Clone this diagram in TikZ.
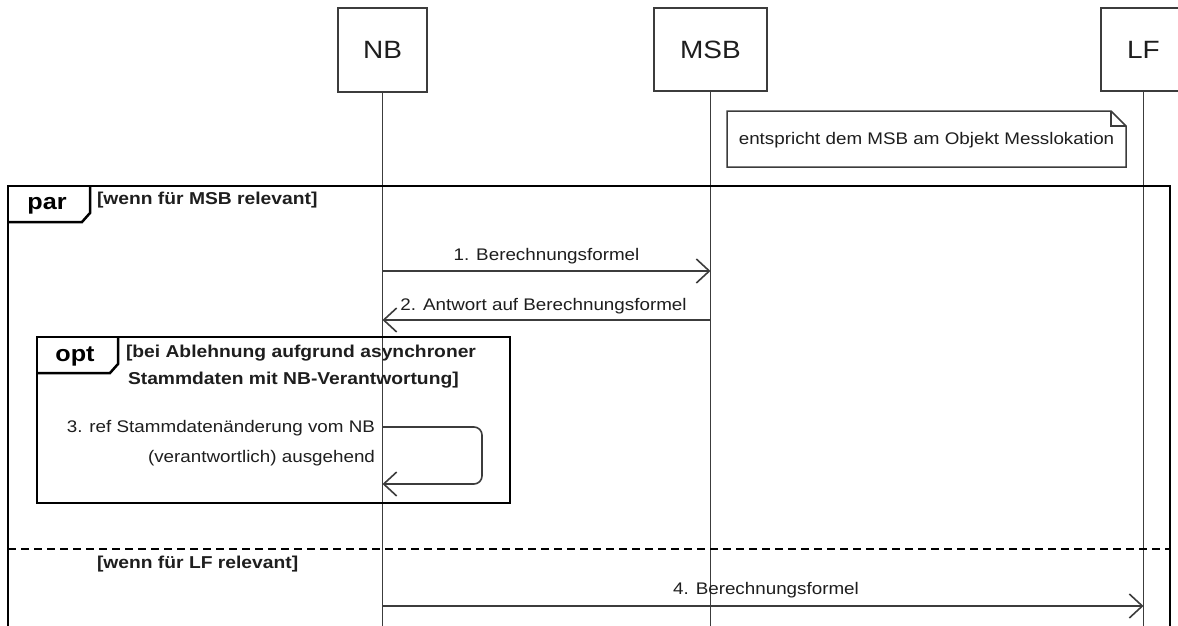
\documentclass[tikz,border=0pt]{standalone}
\usepackage{fontspec}
\setmainfont{Liberation Sans}[FakeStretch=1.12]
\usetikzlibrary{arrows.meta}
\definecolor{linegray}{HTML}{3C3C3C}
\definecolor{textgray}{HTML}{1E1E1E}
\begin{document}
\begin{tikzpicture}[x=1pt,y=-1pt,
  every node/.style={inner sep=0pt, outer sep=0pt, text=textgray},
  head/.style={draw=linegray, line width=1.7pt, fill=white, font=\fontsize{25}{28}\selectfont},
  life/.style={draw=linegray, line width=1.7pt},
  frame/.style={draw=black, line width=2.5pt},
  tablbl/.style={font=\bfseries\fontsize{22.5}{26}\selectfont, text=black},
  guard/.style={font=\bfseries\fontsize{17.2}{27}\selectfont, align=left, anchor=west},
  lbl/.style={font=\fontsize{16.8}{30}\selectfont},
  msg/.style={draw=linegray, line width=1.6pt, -{Straight Barb[length=13pt,width=24pt,line width=1.6pt]}},
  notebox/.style={draw=linegray, line width=1.5pt, fill=white}
]
\useasboundingbox (0,0) rectangle (1178,626);
\fill[white] (0,0) rectangle (1178,626);

% lifeline heads
\node[head, minimum width=89pt, minimum height=84pt] (nb) at (382.5,50) {NB};
\node[head, minimum width=113pt, minimum height=83pt] (msb) at (710.5,49.5) {MSB};
\node[head, minimum width=85pt, minimum height=83pt] (lf) at (1143.5,49.5) {LF};

% lifelines
\coordinate (nbend) at (382.5,640);
\coordinate (msbend) at (710.5,640);
\coordinate (lfend) at (1143.5,640);
\draw[life] (nb.south) -- (nbend);
\draw[life] (msb.south) -- (msbend);
\draw[life] (lf.south) -- (lfend);

% note
\draw[notebox] (727,111) -- (1111,111) -- (1126,126) -- (1126,167) -- (727,167) -- cycle;
\draw[draw=linegray, line width=1.5pt] (1111,111) -- (1111,126) -- (1126,126);
\node[lbl] (note) at (926.5,140) {entspricht dem MSB am Objekt Messlokation};

% par frame
\draw[frame] (8,186) rectangle (1170,660);
\draw[frame] (8,222) -- (82,222) -- (90,213) -- (90,186);
\node[tablbl] (par) at (47,206) {par};
\node[guard] (g1) at (97,200) {[wenn für MSB relevant]};

% messages 1 and 2
\coordinate (m1a) at (382.5,271);
\coordinate (m1b) at (710.5,271);
\draw[msg] (m1a) -- node[lbl, above=7pt] (l1) {1. Berechnungsformel} (m1b);
\coordinate (m2a) at (710.5,320);
\coordinate (m2b) at (382.5,320);
\draw[msg] (m2a) -- node[lbl, above=6pt, xshift=-3pt] (l2) {2. Antwort auf Berechnungsformel} (m2b);

% opt frame
\draw[frame] (37,337) rectangle (510,503);
\draw[frame] (37,373) -- (110,373) -- (118,364) -- (118,337);
\node[tablbl] (opt) at (75,356) {opt};
\node[guard] (g2) at (126,367) {[bei Ablehnung aufgrund asynchroner\\\hspace*{2pt}Stammdaten mit NB-Verantwortung]};

% self message 3
\coordinate (m3a) at (382.5,427);
\coordinate (m3c1) at (482,427);
\coordinate (m3c2) at (482,484);
\coordinate (m3b) at (382.5,484);
\draw[msg, rounded corners=8pt] (m3a) -- (m3c1) -- (m3c2) -- (m3b);
\node[lbl, align=right, anchor=east] (l3) at (375,443) {3. ref Stammdatenänderung vom NB\\(verantwortlich) ausgehend};

% operand separator
\coordinate (dl) at (8,549);
\coordinate (dr) at (1170,549);
\draw[frame, dash pattern=on 8pt off 5pt] (dl) -- (dr);
\node[guard] (g3) at (97,564) {[wenn für LF relevant]};

% message 4
\coordinate (m4a) at (382.5,606);
\coordinate (m4b) at (1143.5,606);
\draw[msg] (m4a) -- node[lbl, above=8pt, xshift=3pt] (l4) {4. Berechnungsformel} (m4b);
\end{tikzpicture}
\end{document}
